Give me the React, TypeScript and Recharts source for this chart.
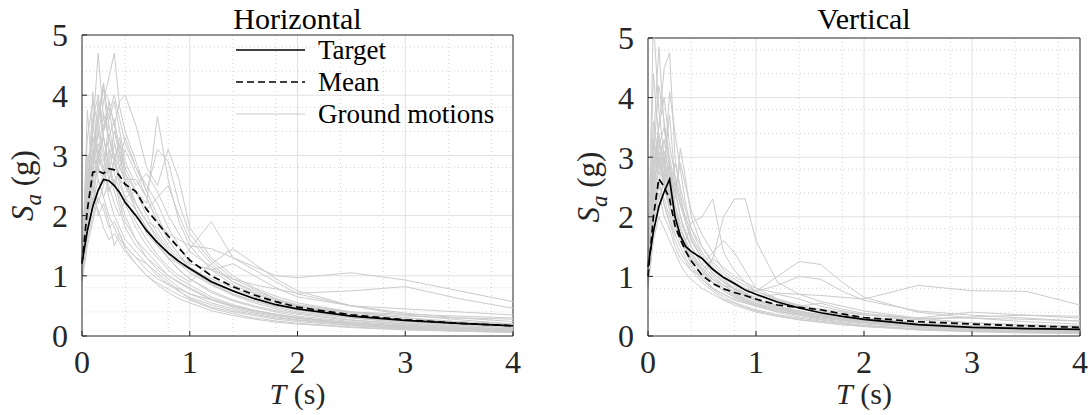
import React from 'react';
import { LineChart, Line, XAxis, YAxis, CartesianGrid, ReferenceLine } from 'recharts';

// periods (s) shared by every spectrum
const PERIODS = [0, 0.05, 0.1, 0.15, 0.2, 0.25, 0.3, 0.35, 0.4, 0.5, 0.6, 0.7, 0.8, 0.9, 1.0, 1.2, 1.4, 1.6, 1.8, 2.0, 2.5, 3.0, 3.5, 4.0];

const H_TARGET = [1.22, 1.75, 2.15, 2.42, 2.6, 2.58, 2.5, 2.38, 2.22, 2.0, 1.75, 1.55, 1.38, 1.24, 1.12, 0.9, 0.75, 0.62, 0.52, 0.45, 0.33, 0.26, 0.21, 0.17];
const H_MEAN = [1.2, 2.1, 2.72, 2.74, 2.7, 2.78, 2.76, 2.66, 2.52, 2.4, 2.1, 1.88, 1.66, 1.46, 1.26, 1.0, 0.82, 0.68, 0.57, 0.48, 0.35, 0.27, 0.21, 0.17];
const H_MOTIONS = [
  [1.2, 2.6, 3.4, 4.7, 3.6, 3.3, 3.0, 2.8, 2.6, 2.1, 1.8, 1.5, 1.3, 1.1, 0.95, 0.75, 0.6, 0.5, 0.42, 0.36, 0.26, 0.2, 0.15, 0.12],
  [1.1, 2.2, 3.0, 3.3, 3.9, 4.3, 4.7, 3.8, 3.4, 2.9, 2.4, 2.0, 1.6, 1.35, 1.1, 0.85, 0.68, 0.55, 0.45, 0.38, 0.27, 0.2, 0.15, 0.11],
  [1.0, 3.75, 2.5, 3.1, 2.8, 2.4, 2.6, 2.2, 1.9, 1.6, 1.3, 1.1, 0.95, 0.8, 0.7, 0.55, 0.45, 0.38, 0.32, 0.27, 0.2, 0.15, 0.12, 0.09],
  [0.95, 2.0, 4.05, 2.8, 2.6, 3.1, 2.9, 2.5, 2.3, 2.4, 2.2, 3.65, 2.6, 1.9, 1.5, 1.1, 0.85, 0.7, 0.58, 0.5, 0.36, 0.27, 0.2, 0.16],
  [1.3, 2.8, 3.2, 3.6, 4.1, 3.9, 3.5, 3.9, 4.0, 3.5, 2.8, 2.5, 3.1, 2.6, 1.8, 1.3, 1.0, 0.8, 0.66, 0.55, 0.4, 0.3, 0.24, 0.2],
  [1.05, 1.9, 2.3, 2.1, 1.8, 1.6, 1.7, 1.55, 1.4, 1.2, 1.0, 0.85, 0.72, 0.62, 0.55, 0.42, 0.34, 0.28, 0.23, 0.2, 0.14, 0.1, 0.08, 0.06],
  [1.15, 2.4, 3.5, 3.0, 3.3, 2.9, 2.5, 2.8, 3.1, 2.7, 2.3, 1.9, 1.7, 1.6, 1.5, 1.45, 1.3, 1.15, 1.0, 0.97, 1.05, 0.93, 0.75, 0.57],
  [1.0, 2.1, 2.7, 3.4, 3.0, 2.6, 2.9, 3.3, 2.7, 2.2, 1.9, 1.8, 1.5, 1.3, 1.2, 1.1, 0.95, 0.85, 0.78, 0.71, 0.75, 0.82, 0.62, 0.46],
  [1.25, 3.0, 2.6, 2.2, 2.5, 2.9, 3.4, 3.0, 2.5, 2.1, 1.7, 1.5, 1.3, 1.2, 1.45, 1.9, 1.3, 1.1, 0.9, 0.7, 0.5, 0.38, 0.3, 0.24],
  [0.9, 1.7, 2.2, 2.6, 2.3, 2.0, 1.8, 1.6, 1.5, 1.3, 1.1, 0.95, 0.85, 0.78, 0.7, 0.6, 0.5, 0.42, 0.36, 0.3, 0.2, 0.14, 0.1, 0.08],
  [1.1, 2.5, 2.9, 3.7, 4.2, 3.5, 3.0, 2.6, 2.3, 1.9, 1.6, 1.35, 1.15, 1.0, 0.9, 1.2, 1.45, 1.2, 0.95, 0.75, 0.5, 0.35, 0.27, 0.2],
  [1.2, 2.3, 3.1, 2.7, 3.5, 3.8, 3.2, 2.9, 3.3, 2.8, 2.4, 3.1, 2.9, 2.2, 1.7, 1.25, 0.95, 0.78, 0.62, 0.5, 0.33, 0.24, 0.18, 0.14],
  [1.0, 1.8, 2.5, 2.0, 2.2, 1.9, 1.5, 1.7, 1.5, 1.3, 1.2, 1.05, 0.9, 0.75, 0.62, 0.48, 0.4, 0.34, 0.28, 0.24, 0.17, 0.12, 0.09, 0.07],
  [1.15, 2.9, 3.3, 3.0, 2.7, 3.6, 3.9, 3.4, 2.9, 2.5, 2.7, 2.4, 2.0, 1.7, 1.4, 1.15, 0.9, 0.72, 0.6, 0.5, 0.38, 0.3, 0.22, 0.18],
  [1.05, 2.0, 2.6, 3.0, 2.8, 2.3, 2.0, 1.8, 1.6, 1.4, 1.2, 1.0, 0.86, 0.74, 0.64, 0.52, 0.42, 0.36, 0.3, 0.26, 0.18, 0.13, 0.1, 0.08],
  [0.95, 2.3, 3.6, 4.0, 3.3, 2.8, 2.5, 2.3, 2.0, 1.6, 1.4, 1.2, 1.0, 0.9, 0.8, 0.62, 0.5, 0.42, 0.36, 0.3, 0.22, 0.17, 0.13, 0.1],
  [1.3, 2.6, 3.0, 3.9, 3.4, 3.7, 4.0, 3.6, 3.2, 2.8, 2.5, 2.2, 1.8, 1.5, 1.2, 1.1, 1.2, 1.0, 0.8, 0.65, 0.5, 0.45, 0.4, 0.35],
  [1.1, 1.6, 2.0, 2.4, 2.7, 2.5, 2.2, 2.0, 2.3, 2.1, 1.8, 1.55, 1.3, 1.1, 0.95, 0.72, 0.58, 0.48, 0.4, 0.33, 0.24, 0.18, 0.14, 0.11],
  [1.2, 3.3, 3.9, 3.5, 4.2, 3.1, 2.7, 2.4, 2.2, 1.8, 1.5, 1.3, 1.1, 0.95, 0.85, 0.65, 0.52, 0.43, 0.36, 0.31, 0.22, 0.16, 0.12, 0.1],
  [1.0, 2.1, 2.8, 3.2, 2.9, 3.3, 3.6, 3.1, 2.7, 2.4, 2.1, 2.3, 2.5, 2.0, 1.6, 1.2, 0.9, 0.75, 0.62, 0.52, 0.4, 0.33, 0.3, 0.28],
  [1.15, 2.7, 2.2, 2.9, 3.3, 2.8, 2.4, 2.1, 1.8, 1.5, 1.3, 1.15, 1.0, 0.88, 0.78, 0.6, 0.48, 0.4, 0.34, 0.29, 0.2, 0.15, 0.11, 0.09],
  [1.05, 2.4, 3.1, 2.6, 2.3, 2.6, 2.9, 2.6, 2.5, 2.2, 1.9, 1.65, 1.4, 1.2, 1.05, 0.85, 0.7, 0.58, 0.48, 0.4, 0.3, 0.24, 0.2, 0.16],
  [1.2, 2.0, 2.4, 2.9, 3.4, 3.9, 3.5, 3.0, 2.6, 2.2, 1.9, 1.6, 1.35, 1.2, 1.1, 0.95, 0.8, 0.65, 0.55, 0.48, 0.4, 0.36, 0.33, 0.3],
  [0.9, 1.5, 1.9, 2.3, 2.1, 1.8, 1.9, 1.7, 1.45, 1.2, 1.0, 0.88, 0.78, 0.68, 0.6, 0.46, 0.37, 0.3, 0.25, 0.21, 0.15, 0.11, 0.08, 0.06],
  [1.1, 2.6, 3.3, 3.0, 3.7, 3.3, 2.9, 3.2, 2.8, 2.4, 2.0, 1.7, 1.45, 1.25, 1.1, 0.88, 0.7, 0.58, 0.5, 0.43, 0.3, 0.22, 0.17, 0.14],
  [1.25, 2.2, 2.8, 3.5, 3.1, 2.7, 3.2, 2.8, 2.6, 2.6, 2.3, 1.9, 1.6, 1.35, 1.15, 0.92, 0.75, 0.62, 0.52, 0.44, 0.32, 0.25, 0.2, 0.17],
];

const V_TARGET = [1.16, 1.75, 2.17, 2.42, 2.63, 2.0, 1.68, 1.5, 1.42, 1.3, 1.12, 0.98, 0.88, 0.77, 0.7, 0.57, 0.47, 0.39, 0.33, 0.28, 0.19, 0.145, 0.125, 0.11];
const V_MEAN = [1.0, 2.0, 2.64, 2.5, 2.3, 1.85, 1.62, 1.42, 1.26, 1.02, 0.88, 0.79, 0.73, 0.68, 0.62, 0.52, 0.48, 0.44, 0.37, 0.31, 0.24, 0.2, 0.17, 0.145];
const V_MOTIONS = [
  [1.1, 5.3, 3.8, 3.0, 2.5, 2.0, 1.7, 1.5, 1.3, 1.0, 0.8, 0.7, 0.6, 0.55, 0.5, 0.4, 0.32, 0.27, 0.22, 0.18, 0.12, 0.09, 0.07, 0.06],
  [0.9, 3.2, 4.85, 3.5, 2.8, 2.2, 1.8, 1.6, 1.4, 1.1, 0.9, 0.75, 0.65, 0.58, 0.52, 0.42, 0.35, 0.28, 0.24, 0.2, 0.14, 0.1, 0.08, 0.07],
  [1.2, 2.8, 3.5, 4.5, 4.75, 3.0, 2.4, 1.9, 1.6, 1.3, 1.05, 0.9, 0.78, 0.68, 0.6, 0.48, 0.4, 0.34, 0.28, 0.24, 0.17, 0.13, 0.1, 0.08],
  [1.0, 2.5, 3.1, 2.7, 4.1, 3.4, 2.8, 2.2, 1.8, 1.4, 1.15, 0.95, 0.8, 0.7, 0.6, 0.5, 0.42, 0.35, 0.3, 0.25, 0.18, 0.14, 0.11, 0.09],
  [1.1, 3.6, 2.9, 3.3, 2.6, 2.3, 3.15, 2.6, 2.0, 1.5, 1.2, 1.0, 0.85, 0.72, 0.62, 0.5, 0.42, 0.35, 0.3, 0.26, 0.2, 0.16, 0.13, 0.1],
  [0.85, 2.2, 2.6, 2.2, 1.9, 1.6, 1.4, 1.25, 1.1, 0.9, 0.75, 0.62, 0.55, 0.48, 0.42, 0.34, 0.28, 0.23, 0.19, 0.16, 0.1, 0.07, 0.05, 0.04],
  [1.0, 2.0, 2.4, 2.0, 1.8, 1.5, 1.3, 1.2, 1.1, 1.0, 1.3, 2.0, 2.3, 2.3, 1.6, 0.9, 0.7, 0.58, 0.5, 0.42, 0.3, 0.22, 0.18, 0.15],
  [1.1, 2.6, 3.3, 2.8, 2.4, 2.1, 1.8, 1.6, 1.9, 2.0, 2.3, 1.4, 1.1, 0.9, 0.75, 0.6, 0.5, 0.42, 0.36, 0.3, 0.22, 0.17, 0.13, 0.1],
  [0.95, 2.3, 2.9, 2.5, 2.1, 1.8, 1.6, 1.45, 1.3, 1.1, 0.95, 0.85, 0.8, 0.72, 0.75, 1.0, 1.25, 1.2, 0.9, 0.65, 0.4, 0.3, 0.24, 0.2],
  [1.05, 2.0, 2.6, 2.9, 2.4, 2.0, 1.7, 1.5, 1.3, 1.1, 1.3, 1.15, 1.0, 0.9, 0.8, 0.72, 0.7, 0.68, 0.65, 0.62, 0.85, 0.76, 0.75, 0.52],
  [1.2, 3.0, 4.2, 3.6, 3.0, 2.5, 2.0, 1.7, 1.5, 1.2, 1.0, 0.85, 0.75, 0.66, 0.58, 0.47, 0.4, 0.34, 0.29, 0.25, 0.2, 0.17, 0.15, 0.13],
  [0.9, 1.9, 2.3, 2.6, 2.2, 1.9, 1.6, 1.4, 1.2, 0.95, 0.78, 0.66, 0.56, 0.5, 0.44, 0.36, 0.3, 0.25, 0.21, 0.17, 0.12, 0.09, 0.07, 0.06],
  [1.15, 2.7, 3.4, 2.9, 3.7, 2.6, 2.2, 2.0, 1.7, 1.35, 1.1, 0.92, 0.78, 0.68, 0.6, 0.52, 0.5, 0.55, 0.45, 0.38, 0.3, 0.4, 0.35, 0.3],
  [1.0, 2.4, 2.1, 2.7, 2.3, 2.9, 2.5, 2.1, 1.8, 1.5, 1.25, 1.05, 0.9, 0.78, 0.68, 0.55, 0.46, 0.38, 0.32, 0.27, 0.2, 0.15, 0.12, 0.1],
  [0.8, 1.6, 2.0, 1.8, 1.6, 1.4, 1.2, 1.05, 0.95, 0.8, 0.7, 0.6, 0.52, 0.46, 0.4, 0.33, 0.27, 0.23, 0.19, 0.16, 0.11, 0.08, 0.06, 0.05],
  [1.1, 2.9, 3.5, 4.0, 3.2, 2.7, 2.3, 1.9, 1.6, 1.3, 1.1, 1.0, 0.9, 0.8, 0.75, 0.85, 1.0, 0.95, 0.75, 0.6, 0.42, 0.35, 0.3, 0.25],
  [1.0, 2.2, 2.8, 3.1, 2.7, 2.4, 2.9, 2.5, 2.1, 1.7, 1.4, 1.6, 1.4, 1.1, 0.8, 0.62, 0.5, 0.42, 0.36, 0.3, 0.22, 0.17, 0.14, 0.12],
  [1.2, 4.4, 3.3, 2.6, 2.2, 1.9, 1.6, 1.4, 1.25, 1.05, 0.9, 0.8, 0.7, 0.62, 0.55, 0.45, 0.38, 0.32, 0.28, 0.24, 0.18, 0.14, 0.11, 0.09],
  [0.95, 2.1, 2.5, 2.3, 2.0, 1.7, 1.5, 1.3, 1.15, 0.95, 0.8, 0.7, 0.62, 0.56, 0.5, 0.42, 0.36, 0.31, 0.27, 0.23, 0.17, 0.14, 0.12, 0.1],
  [1.05, 2.5, 3.0, 2.6, 2.9, 2.2, 1.9, 1.7, 1.5, 1.2, 1.4, 1.1, 0.95, 0.85, 0.75, 0.62, 0.52, 0.45, 0.4, 0.35, 0.3, 0.3, 0.28, 0.25],
  [1.1, 3.3, 2.7, 3.0, 2.5, 2.1, 1.8, 1.55, 1.35, 1.1, 0.9, 0.76, 0.66, 0.58, 0.51, 0.42, 0.35, 0.3, 0.26, 0.22, 0.16, 0.12, 0.1, 0.08],
  [0.9, 2.0, 2.6, 2.2, 1.9, 1.7, 1.8, 1.6, 1.4, 1.15, 0.95, 0.8, 0.68, 0.6, 0.53, 0.45, 0.4, 0.36, 0.33, 0.3, 0.28, 0.32, 0.35, 0.33],
  [1.0, 2.3, 3.2, 3.5, 2.9, 2.4, 2.0, 1.75, 1.5, 1.2, 1.0, 0.85, 0.72, 0.63, 0.55, 0.45, 0.37, 0.31, 0.26, 0.22, 0.15, 0.11, 0.09, 0.07],
  [1.15, 2.6, 3.0, 2.5, 2.2, 2.6, 2.2, 1.9, 1.65, 1.3, 1.05, 0.9, 0.8, 0.72, 0.65, 0.7, 0.62, 0.5, 0.42, 0.36, 0.27, 0.22, 0.19, 0.17],
];

const X_TICKS = [0, 1, 2, 3, 4];
const Y_TICKS = [0, 1, 2, 3, 4, 5];
const MINOR_X = [0.2, 0.4, 0.6, 0.8, 1.2, 1.4, 1.6, 1.8, 2.2, 2.4, 2.6, 2.8, 3.2, 3.4, 3.6, 3.8];
const MINOR_Y = [0.2, 0.4, 0.6, 0.8, 1.2, 1.4, 1.6, 1.8, 2.2, 2.4, 2.6, 2.8, 3.2, 3.4, 3.6, 3.8, 4.2, 4.4, 4.6, 4.8];

const FONT = "'Liberation Serif', 'Times New Roman', serif";
const INK = '#262626';
const GRAY = '#cbcbcb';
const H = 415;
const Y_W = 60;
const X_H = 45;

function buildRows(target: number[], mean: number[], motions: number[][]) {
  return PERIODS.map((T, i) => {
    const row: Record<string, number> = { T, target: target[i], mean: mean[i] };
    motions.forEach((m, k) => {
      row['g' + k] = m[i];
    });
    return row;
  });
}

function Panel({ title, target, mean, motions, x, width, margin, legend }: any) {
  const rows = buildRows(target, mean, motions);
  const plotLeft = margin.left + Y_W;
  const plotRight = width - margin.right;
  const plotBottom = H - margin.bottom - X_H;
  const cx = (plotLeft + plotRight) / 2;
  const cy = (margin.top + plotBottom) / 2;
  const tick = { fontSize: 32, fill: INK, fontFamily: FONT };

  return (
    <div style={{ position: 'absolute', left: x, top: 0, width, height: H }}>
      <LineChart width={width} height={H} data={rows} margin={margin}>
        <CartesianGrid verticalValues={MINOR_X} horizontalValues={MINOR_Y} stroke="#d2d2d2" strokeDasharray="1 3" />
        <CartesianGrid verticalValues={[1, 2, 3]} horizontalValues={[1, 2, 3, 4]} stroke="#e0e0e0" />
        <XAxis
          type="number"
          dataKey="T"
          domain={[0, 4]}
          ticks={X_TICKS}
          tick={tick}
          tickSize={-5}
          tickMargin={19}
          height={X_H}
          axisLine={{ stroke: INK }}
          tickLine={{ stroke: INK }}
        />
        <YAxis
          type="number"
          domain={[0, 5]}
          ticks={Y_TICKS}
          allowDataOverflow
          tick={tick}
          tickSize={-5}
          tickMargin={19}
          width={Y_W}
          axisLine={{ stroke: INK }}
          tickLine={{ stroke: INK }}
        />
        <ReferenceLine y={5} stroke={INK} />
        <ReferenceLine x={4} stroke={INK} />
        {motions.map((_: number[], k: number) => (
          <Line key={k} dataKey={'g' + k} stroke={GRAY} strokeWidth={1} dot={false} isAnimationActive={false} />
        ))}
        <Line dataKey="mean" stroke="#000" strokeWidth={1.7} strokeDasharray="7 4" dot={false} isAnimationActive={false} />
        <Line dataKey="target" stroke="#000" strokeWidth={1.7} dot={false} isAnimationActive={false} />
      </LineChart>

      <svg width={width} height={H} style={{ position: 'absolute', left: 0, top: 0, pointerEvents: 'none' }}>
        <text x={cx} y={29} textAnchor="middle" fontSize={30} fontFamily={FONT} fill="#000">
          {title}
        </text>
        <text x={cx} y={404} textAnchor="middle" fontSize={30} fontFamily={FONT} fill={INK}>
          <tspan fontStyle="italic">T</tspan> (s)
        </text>
        <text
          transform={`translate(${plotLeft - 49},${cy}) rotate(-90)`}
          textAnchor="middle"
          fontSize={31}
          fontFamily={FONT}
          fill={INK}
        >
          <tspan fontStyle="italic">S</tspan>
          <tspan fontStyle="italic" fontSize={23} dy={8}>a</tspan>
          <tspan dy={-8}> (g)</tspan>
        </text>
        {legend && (
          <g fontFamily={FONT} fontSize={27} fill="#000">
            <line x1={236} x2={305} y1={50} y2={50} stroke="#000" strokeWidth={1.7} />
            <text x={318} y={59}>Target</text>
            <line x1={236} x2={305} y1={82} y2={82} stroke="#000" strokeWidth={1.7} strokeDasharray="7 4" />
            <text x={318} y={91}>Mean</text>
            <line x1={236} x2={305} y1={114} y2={114} stroke={GRAY} strokeWidth={1} />
            <text x={318} y={123}>Ground motions</text>
          </g>
        )}
      </svg>
    </div>
  );
}

export default function App() {
  return (
    <div style={{ position: 'absolute', left: 0, top: 0, width: 1088, height: H, background: '#fff' }}>
      <Panel
        title="Horizontal"
        target={H_TARGET}
        mean={H_MEAN}
        motions={H_MOTIONS}
        x={0}
        width={540}
        margin={{ top: 35, right: 27, left: 22, bottom: 34 }}
        legend
      />
      <Panel
        title="Vertical"
        target={V_TARGET}
        mean={V_MEAN}
        motions={V_MOTIONS}
        x={540}
        width={548}
        margin={{ top: 38, right: 8, left: 48, bottom: 34 }}
      />
    </div>
  );
}
